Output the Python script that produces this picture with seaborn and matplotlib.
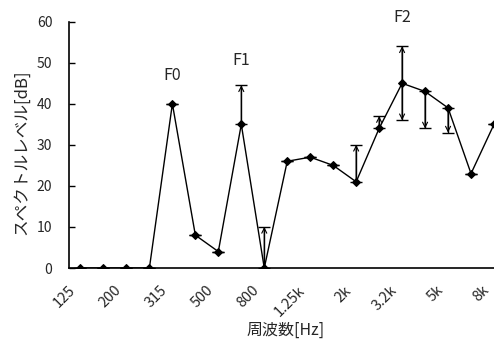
import numpy as np
import pandas as pd
import matplotlib
matplotlib.use('Agg')
import matplotlib.pyplot as plt
import matplotlib.transforms as mtransforms
import seaborn as sns

# 1/3 octave band centre frequencies and levels
bands = ['125', '160', '200', '250', '315', '400', '500', '630', '800', '1k',
         '1.25k', '1.6k', '2k', '2.5k', '3.2k', '4k', '5k', '6.3k', '8k']
levels = [0, 0, 0, 0, 40, 8, 4, 35, 0, 26,
          27, 25, 21, 34, 45, 43, 39, 23, 35]
err_up = [0, 0, 0, 0, 0, 0, 0, 9.5, 10, 0,
          0, 0, 9, 3, 9, 0, 0, 0, 0]
err_down = [0, 0, 0, 0, 0, 0, 0, 0, 0, 0,
            0, 0, 0, 0, 9, 9, 6, 0, 0]
shown_labels = ['125', '200', '315', '500', '800', '1.25k', '2k', '3.2k', '5k', '8k']
formants = {'F0': (4, 47), 'F1': (7, 50.5), 'F2': (14, 61)}

sns.set_style('white')
plt.rcParams['font.family'] = ['Noto Sans CJK JP', 'DejaVu Sans']

df = pd.DataFrame({'pos': np.arange(len(bands)), 'level': levels})

fig = plt.figure(figsize=(4.94, 3.44), dpi=100)
ax = fig.add_axes([69 / 494, 1 - 268 / 344, 1 - 69 / 494, (268 - 21.7) / 344])

sns.lineplot(data=df, x='pos', y='level', ax=ax, color='black', lw=1,
             marker='D', markersize=4, markeredgecolor='black')

ax.errorbar(df['pos'], df['level'], yerr=[err_down, err_up], fmt='none',
            ecolor='black', elinewidth=1, capsize=4, capthick=1)

# arrow heads at the ends of the bars
for i, (v, up, dn) in enumerate(zip(levels, err_up, err_down)):
    for d in (up, -dn):
        if d != 0:
            ax.annotate('', xy=(i, v + d), xytext=(i, v),
                        arrowprops=dict(arrowstyle='->', lw=0.8, color='black',
                                        shrinkA=0, shrinkB=0, mutation_scale=9))

for name, (x, y) in formants.items():
    ax.text(x, y, name, ha='center', va='center', fontsize=11.5, clip_on=False)

ax.set_xlim(-0.5, 18.0)
ax.set_ylim(0, 60)
ax.set_yticks(range(0, 61, 10))
ax.set_xticks([bands.index(b) for b in shown_labels])
ax.set_xticklabels(shown_labels, rotation=45, ha='right', rotation_mode='anchor',
                   fontsize=10.5)
ax.set_xticks(np.arange(-0.5, 18.5, 1), minor=True)
ax.tick_params(axis='x', which='major', length=0, pad=11)
ax.tick_params(axis='x', which='minor', direction='in', length=4, width=1, color='black')
ax.tick_params(axis='y', direction='in', length=4, width=1, color='black',
               labelsize=10, pad=12, left=True)

# shift rotated labels to the left, as in the original
shift = mtransforms.ScaledTranslation(-12 / 100, 0, fig.dpi_scale_trans)
for lab in ax.get_xticklabels():
    lab.set_transform(lab.get_transform() + shift)

ax.set_xlabel('周波数[Hz]', fontsize=11.5, labelpad=2)
ax.set_ylabel('スペクトルレベル[dB]', fontsize=12, labelpad=5)
ax.xaxis.label.set_x(0.51)
ax.yaxis.label.set_y(0.47)

sns.despine(ax=ax)
for s in ('left', 'bottom'):
    ax.spines[s].set_color('black')
    ax.spines[s].set_linewidth(1.2)

fig.savefig('out.png', dpi=100)
